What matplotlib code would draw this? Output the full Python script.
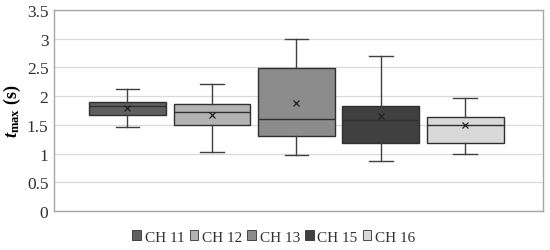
import matplotlib
matplotlib.use("Agg")
import matplotlib.pyplot as plt
from matplotlib.patches import Patch

# box stats
labels = ["CH 11", "CH 12", "CH 13", "CH 15", "CH 16"]
whislo = [1.47, 1.03, 0.97, 0.87, 0.99]
q1 = [1.68, 1.50, 1.30, 1.18, 1.19]
med = [1.82, 1.72, 1.60, 1.59, 1.50]
q3 = [1.89, 1.86, 2.49, 1.83, 1.64]
whishi = [2.13, 2.21, 3.00, 2.70, 1.96]
means = [1.80, 1.67, 1.88, 1.65, 1.50]
colors = ["#606060", "#b3b3b3", "#8c8c8c", "#404040", "#d9d9d9"]
yticks = [0, 0.5, 1, 1.5, 2, 2.5, 3, 3.5]

plt.rcParams['font.family'] = ['Liberation Serif', 'DejaVu Serif']
plt.rcParams['mathtext.fontset'] = 'custom'
plt.rcParams['mathtext.it'] = 'Liberation Serif:italic:bold'
plt.rcParams['mathtext.rm'] = 'Liberation Serif:bold'

fig = plt.figure(figsize=(5.5, 2.51), dpi=100)
ax = fig.add_axes([54/550, 1-212/251, (543-54)/550, (212-11)/251])

stats = []
for i in range(len(labels)):
    stats.append(dict(label=labels[i], whislo=whislo[i], q1=q1[i], med=med[i],
                      q3=q3[i], whishi=whishi[i], mean=means[i], fliers=[]))

bp = ax.bxp(stats, positions=range(len(labels)), widths=0.91, patch_artist=True,
            showmeans=True, capwidths=0.28,
            boxprops=dict(edgecolor="#303030", linewidth=1.0),
            medianprops=dict(color="#303030", linewidth=1.0),
            whiskerprops=dict(color="#404040", linewidth=1.0),
            capprops=dict(color="#404040", linewidth=1.0),
            meanprops=dict(marker="x", markeredgecolor="#202020", markersize=5,
                           markeredgewidth=0.9))
for patch, c in zip(bp['boxes'], colors):
    patch.set_facecolor(c)

ax.set_xlim(-0.87, 4.92)
ax.set_ylim(0, 3.5)
ax.set_yticks(yticks)
ax.set_yticklabels([("%g" % v) for v in yticks], fontsize=12.5, color="#303030")
ax.set_xticks([])
ax.tick_params(axis='y', length=0, pad=4)
ax.grid(axis='y', color="#d9d9d9", linewidth=0.9)
ax.set_axisbelow(True)
for s in ax.spines.values():
    s.set_color("#a6a6a6")
    s.set_linewidth(1.0)

ax.set_ylabel(r"$t_{\mathrm{max}}\ \mathrm{(s)}$", fontsize=13, labelpad=3)

handles = [Patch(facecolor=c, edgecolor="#303030", linewidth=0.6) for c in colors]
fig.legend(handles, labels, loc='center', bbox_to_anchor=(274/550, 1-238/251),
           ncol=5, frameon=False, fontsize=11, handlelength=0.55, handleheight=0.55,
           handletextpad=0.25, columnspacing=0.35, labelcolor="#303030")

fig.savefig("out.png", dpi=100)
